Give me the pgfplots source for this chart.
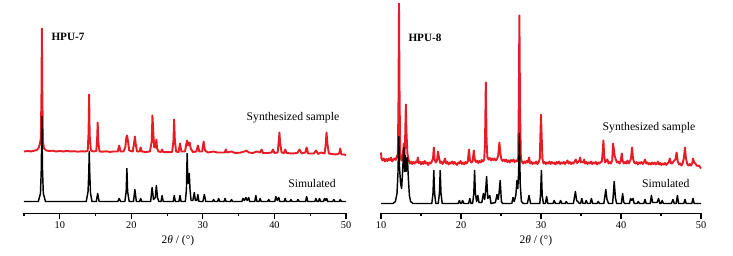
\documentclass[border=0pt]{standalone}
\usepackage{pgfplots}
\pgfplotsset{compat=1.18}
\usepackage{fontspec}
\setmainfont{Liberation Serif}
\definecolor{myred}{RGB}{232,28,36}
\pgfplotsset{
  xrdaxis/.style={
    scale only axis, height=213.5pt,
    ymin=0, ymax=213.5,
    axis x line=bottom, axis y line=none,
    x axis line style={-, line width=1.2pt},
    ytick=\empty,
    tick align=outside,
    major tick length=5.7pt, minor tick length=2.6pt,
    every tick/.style={black, line width=1.1pt},
    xticklabel style={font=\fontsize{10.3}{12}\selectfont, inner sep=2pt},
    /pgf/number format/assume math mode=true,
    xtick={10,20,30,40,50}, minor xtick={5,15,25,35,45},
    clip=false,
  },
  redline/.style={myred, line width=1.9pt, line join=round},
  blackline/.style={black, line width=1.45pt, line join=round},
}
\begin{document}
\begin{tikzpicture}[x=1pt,y=1pt]
\useasboundingbox (0,0) rectangle (733,256);
% ---------------- HPU-7 ----------------
\begin{axis}[xrdaxis, at={(24pt,42.5pt)}, anchor=south west, width=322pt, xmin=5, xmax=50]
\addplot[redline] coordinates {
(5,62) (5.5,62.5) (6.0,62) (6.5,63) (6.8,63.5) (7.0,65) (7.2,69) (7.35,75) (7.44,120) (7.5,185) (7.56,120) (7.65,72) (7.8,65) (8.1,63) (8.5,62.5) (9,62.8) (9.5,62) (10,62.5) (10.5,62) (11,62.6) (11.5,62) (12,62.3) (12.5,61.8) (13,62.2) (13.5,62) (13.9,62.5) (14.02,80) (14.1,119) (14.18,78) (14.35,63) (14.7,62) (15.1,62.5) (15.22,75) (15.3,91) (15.38,72) (15.55,62) (16,61.8) (16.5,62.2) (17,61.6) (17.5,62) (18.1,62) (18.3,68) (18.5,62) (18.9,62) (19.15,66) (19.3,76) (19.4,78) (19.5,74) (19.7,63) (20.2,62) (20.38,70) (20.5,77) (20.62,69) (20.8,62) (21.15,62) (21.3,66) (21.45,62) (22,61.5) (22.6,62) (22.85,72) (22.95,98) (23.08,80) (23.2,66) (23.4,66) (23.5,74) (23.6,65) (23.8,62) (24.15,61.5) (24.3,64) (24.45,61.5) (25,61.3) (25.7,61.5) (25.88,72) (25.98,94) (26.08,74) (26.25,62) (26.6,61.5) (26.8,70) (27.0,62) (27.5,62) (27.7,70) (27.8,73) (27.95,68) (28.15,71) (28.3,65) (28.6,61.5) (29.1,62) (29.3,68) (29.5,62) (29.9,62) (30.1,72) (30.3,63) (30.7,61) (31.5,62) (32,61) (32.5,61) (33.05,61) (33.2,64) (33.35,61) (34,62) (34.5,60.5) (35.2,60.8) (35.8,62) (36.1,63) (36.4,61) (37,60.5) (37.5,62) (38,61) (38.2,64) (38.4,60.5) (39,60.5) (39.6,61) (39.8,64) (40.0,60.5) (40.45,61) (40.6,72) (40.7,81) (40.8,70) (41.0,61) (41.35,60.5) (41.5,64) (41.7,60.5) (42.5,60) (43.2,60.5) (43.5,64) (43.8,60) (44.3,61) (44.5,66) (44.7,60) (45.5,60) (45.8,63) (46.1,59.5) (46.5,61) (47.0,60) (47.15,68) (47.28,81) (47.4,70) (47.6,60) (48,59.5) (48.6,59) (49.05,60) (49.2,65) (49.35,59) (49.7,59) (50,58.5)
};
\addplot[blackline] coordinates {
(5,12) (7.0,12) (7.3,20) (7.42,45) (7.5,97) (7.58,45) (7.7,20) (8.0,12)
(13.7,12) (13.95,22) (14.05,40) (14.12,62) (14.2,38) (14.3,20) (14.5,12)
(15.1,12) (15.3,20) (15.5,12)
(18.1,12) (18.3,15) (18.5,12)
(19.1,12) (19.28,22) (19.38,45) (19.48,22) (19.7,12)
(20.3,12) (20.5,24) (20.7,12)
(21.15,12) (21.3,15) (21.45,12)
(22.7,12) (22.9,26) (23.1,14) (23.35,16) (23.5,28) (23.65,16) (23.85,12)
(24.15,12) (24.3,18) (24.45,12)
(25.85,12) (26.0,18) (26.15,12)
(26.65,12) (26.8,18) (26.95,12)
(27.55,12) (27.7,24) (27.8,60) (27.9,32) (28.0,30) (28.1,40) (28.2,24) (28.35,13) (28.6,13) (28.8,21) (28.95,13) (29.15,13) (29.3,19) (29.45,12)
(30.0,12) (30.2,19) (30.4,12)
(31.35,12) (31.5,14) (31.65,12)
(32.05,12) (32.2,15) (32.35,12)
(32.95,12) (33.1,15) (33.25,12)
(33.85,12) (34.0,14) (34.15,12)
(35.45,12) (35.6,15) (35.8,13) (36.0,16) (36.2,13) (36.4,16) (36.55,12)
(37.25,12) (37.4,18) (37.55,12) (37.85,12) (38.0,15) (38.15,12)
(39.05,12) (39.2,14) (39.35,12)
(40.05,12) (40.2,17) (40.4,13) (40.6,16) (40.75,12)
(41.35,12) (41.5,15) (41.65,12)
(42.15,12) (42.3,14) (42.45,12)
(43.15,12) (43.3,14) (43.45,12)
(44.35,12) (44.5,17) (44.65,12)
(45.65,12) (45.8,15) (45.95,12)
(46.15,12) (46.3,15) (46.45,12)
(46.85,12) (47.0,15) (47.15,13) (47.3,15) (47.45,12)
(48.15,12) (48.3,14) (48.45,12)
(49.05,12) (49.2,14) (49.35,12)
(50,12)
};
\node[font=\fontsize{11.2}{13}\selectfont\bfseries] at (axis cs:11.15,176.5) {HPU-7};
\node[font=\fontsize{11.7}{14}\selectfont] at (axis cs:42.59,95.5) {Synthesized sample};
\node[font=\fontsize{11.7}{14}\selectfont] at (axis cs:45.25,29.5) {Simulated};
\node[font=\fontsize{11.5}{14}\selectfont] at (rel axis cs:0.478,-0.128) {2\textit{θ} / (°)};
\end{axis}
% ---------------- HPU-8 ----------------
\begin{axis}[xrdaxis, at={(381pt,42.5pt)}, anchor=south west, width=320pt, xmin=10, xmax=50]
\addplot[redline] coordinates {
(10,61) (10.05,55) (10.2,53) (10.35,55) (10.5,52) (10.65,54.5) (10.8,52.5) (10.95,55) (11.1,53) (11.25,56) (11.4,52) (11.55,54) (11.7,55) (11.85,53.5) (12.0,58) (12.1,56) (12.18,110) (12.25,210) (12.32,120) (12.4,60) (12.55,53) (12.7,56) (12.85,70) (12.95,58) (13.03,80) (13.1,109) (13.18,82) (13.3,60) (13.45,54) (13.6,50) (13.75,52) (13.9,49.5) (14.05,51.5) (14.2,50) (14.35,52) (14.5,51) (14.6,56) (14.7,50.5) (14.85,52) (15.0,49) (15.15,51.5) (15.3,49.5) (15.45,52.5) (15.6,50) (15.75,51) (15.9,48.5) (16.05,51) (16.2,50) (16.35,52) (16.5,55) (16.6,66) (16.7,54) (16.85,51) (17.0,53) (17.12,62) (17.25,56) (17.4,50.5) (17.55,52) (17.7,49.5) (17.85,51.5) (18.0,55) (18.15,50) (18.3,51.5) (18.45,49) (18.6,51) (18.75,50) (18.9,52) (19.05,49.5) (19.2,51.5) (19.35,50) (19.5,48.5) (19.65,51) (19.8,50) (19.95,52.5) (20.1,49.5) (20.25,51) (20.4,49) (20.55,51.5) (20.7,50) (20.85,52) (21.0,64) (21.12,53) (21.3,51) (21.45,52) (21.6,63) (21.72,54) (21.85,51.5) (22.0,53) (22.15,50.5) (22.3,52.5) (22.45,51) (22.6,53.5) (22.75,52) (22.9,54) (23.0,70) (23.1,131) (23.2,72) (23.3,56) (23.45,54) (23.6,55.5) (23.75,53) (23.9,55) (24.05,53.5) (24.2,55) (24.35,53) (24.5,54.5) (24.65,58) (24.8,71) (24.92,60) (25.05,54) (25.2,52.5) (25.35,54) (25.5,52) (25.65,54) (25.8,51.5) (25.95,53) (26.1,51) (26.25,53.5) (26.4,52) (26.55,54) (26.7,51.5) (26.85,53) (27.0,52) (27.15,56) (27.22,110) (27.3,198) (27.38,105) (27.48,56) (27.6,52) (27.75,50) (27.9,52) (28.05,50.5) (28.2,52.5) (28.35,51) (28.5,56) (28.65,50) (28.8,51.5) (28.95,49.5) (29.1,51) (29.25,50) (29.4,52) (29.55,49.5) (29.7,51) (29.85,55) (29.93,80) (30.0,99) (30.08,78) (30.18,55) (30.3,50) (30.45,51.5) (30.6,49.5) (30.75,51) (30.9,50) (31.05,52) (31.2,49.5) (31.35,51.5) (31.5,50) (31.65,51) (31.8,49) (31.95,51.5) (32.1,50) (32.25,52) (32.4,49.5) (32.55,51) (32.7,50) (32.85,51.5) (33.0,49.5) (33.15,51) (33.3,53) (33.45,50) (33.6,51.5) (33.75,49.5) (33.9,51) (34.05,50) (34.2,52) (34.35,54) (34.5,50.5) (34.65,51.5) (34.8,53) (34.9,56) (35.0,51) (35.15,52) (35.3,51) (35.4,54) (35.5,50) (35.65,51.5) (35.8,49.5) (35.95,51) (36.1,50) (36.25,52) (36.4,49.5) (36.55,51) (36.7,50) (36.85,51.5) (37.0,49) (37.15,51) (37.3,50) (37.45,51.5) (37.6,52) (37.7,60) (37.8,73) (37.9,58) (38.0,51) (38.15,52.5) (38.3,54) (38.45,50) (38.6,51.5) (38.75,50) (38.9,53) (39.0,70) (39.1,65) (39.2,58) (39.35,54) (39.5,51) (39.65,52) (39.8,50) (39.95,52) (40.1,60) (40.2,53) (40.35,50) (40.5,51.5) (40.65,50) (40.8,53) (40.95,50) (41.1,52) (41.25,55) (41.38,66) (41.5,55) (41.65,51) (41.8,50) (41.95,51.5) (42.1,49) (42.25,51) (42.4,50) (42.55,51.5) (42.7,49.5) (42.85,51) (43.0,54) (43.15,50) (43.3,51) (43.45,49) (43.6,50.5) (43.75,49) (43.9,51) (44.05,49.5) (44.2,51) (44.35,49) (44.5,50) (44.6,52) (44.75,49) (44.9,50.5) (45.05,48.5) (45.2,50) (45.35,49) (45.5,50.5) (45.65,48.5) (45.8,50) (45.95,51) (46.1,55) (46.25,50) (46.4,50) (46.55,52) (46.8,54) (46.95,61) (47.1,52) (47.25,49) (47.4,50) (47.55,48) (47.7,50) (47.85,55) (48.0,66) (48.12,55) (48.3,49) (48.45,48) (48.6,49.5) (48.75,48) (48.9,50) (49.0,55) (49.15,51) (49.3,50) (49.45,48) (49.6,47.5) (49.75,48) (49.9,46) (50,45)
};
\addplot[blackline] coordinates {
(10,10) (11.5,10) (11.8,12) (12.0,20) (12.12,40) (12.22,77) (12.32,45) (12.45,30) (12.58,25) (12.72,45) (12.85,66) (12.95,42) (13.05,58) (13.15,42) (13.3,56) (13.42,35) (13.55,18) (13.7,12) (14.0,10)
(16.35,10) (16.5,20) (16.6,43) (16.7,20) (16.85,10)
(17.15,10) (17.3,20) (17.4,43) (17.5,20) (17.65,10)
(19.65,10) (19.8,13) (19.95,10) (20.05,10) (20.2,13) (20.35,10)
(20.95,10) (21.1,15) (21.25,10)
(21.45,10) (21.6,20) (21.7,43) (21.8,20) (21.95,12) (22.1,18) (22.25,11)
(22.6,11) (22.8,20) (22.95,14) (23.05,20) (23.2,37) (23.35,15) (23.6,18) (23.75,10)
(24.3,11) (24.5,19) (24.65,14) (24.75,20) (24.9,33) (25.05,12) (25.2,10)
(26.35,10) (26.5,16) (26.65,12) (26.85,18) (27.0,33) (27.1,25) (27.2,40) (27.3,80) (27.4,30) (27.55,12) (27.8,10)
(28.3,10) (28.5,18) (28.7,10)
(29.85,10) (29.95,20) (30.05,43) (30.15,18) (30.3,10)
(30.55,10) (30.7,17) (30.85,10)
(31.5,10) (31.65,13) (31.8,10) (32.3,10) (32.45,13) (32.6,10) (33.0,10) (33.15,12) (33.3,10)
(34.05,10) (34.2,17) (34.3,22) (34.45,13) (34.6,12) (34.8,10)
(34.95,10) (35.1,15) (35.25,10) (35.5,10) (35.65,13) (35.8,10) (36.15,10) (36.3,15) (36.45,10) (37.0,10) (37.15,12) (37.3,10)
(37.85,10) (38.0,18) (38.1,24) (38.25,14) (38.45,10)
(38.95,10) (39.05,20) (39.15,32) (39.3,16) (39.45,10)
(40.05,10) (40.2,20) (40.35,11) (40.5,10)
(41.05,10) (41.2,15) (41.35,13) (41.5,15) (41.65,10)
(42.0,10) (42.15,12) (42.3,10)
(42.85,10) (43.0,14) (43.15,10)
(43.65,10) (43.8,18) (43.95,11) (44.5,11) (44.7,15) (44.85,10)
(45.0,10) (45.15,13) (45.3,10) (46.3,10) (46.5,14) (46.65,10)
(46.9,10) (47.05,18) (47.2,10)
(47.85,10) (48.0,14) (48.15,10)
(48.85,10) (49.0,15) (49.15,10)
(50,10)
};
\node[font=\fontsize{11.2}{13}\selectfont\bfseries] at (axis cs:15.5,175.5) {HPU-8};
\node[font=\fontsize{11.7}{14}\selectfont] at (axis cs:43.5,85.5) {Synthesized sample};
\node[font=\fontsize{11.7}{14}\selectfont] at (axis cs:45.6,29.5) {Simulated};
\node[font=\fontsize{11.5}{14}\selectfont] at (rel axis cs:0.484,-0.128) {2\textit{θ} / (°)};
\end{axis}
\end{tikzpicture}
\end{document}
